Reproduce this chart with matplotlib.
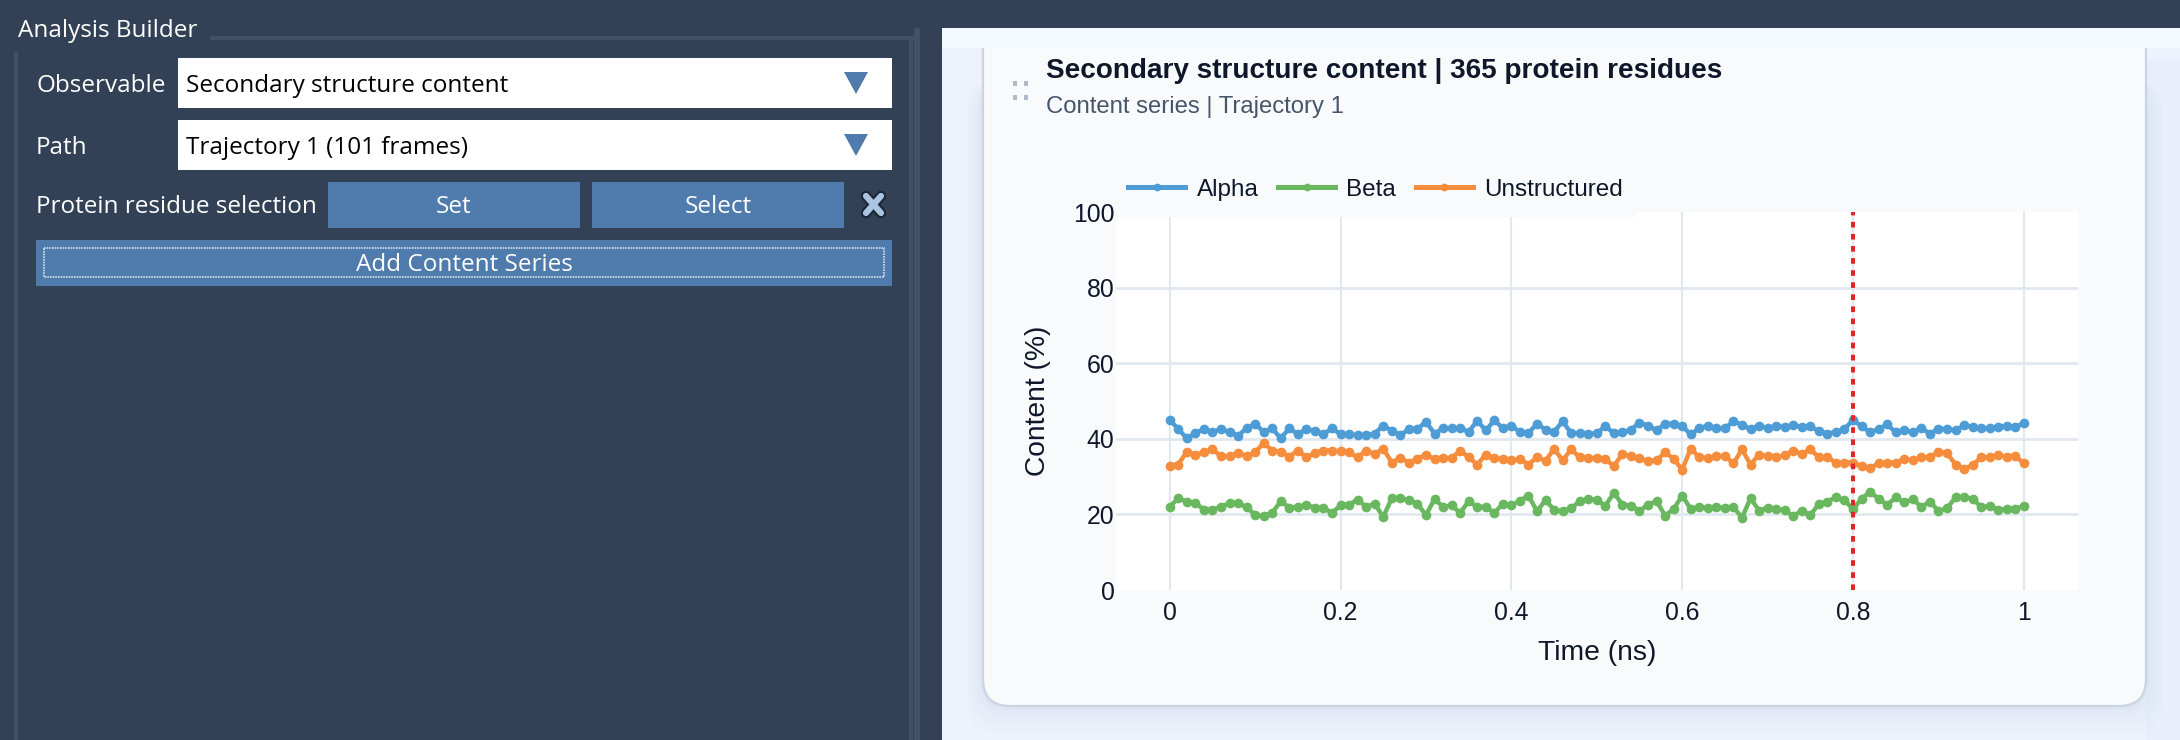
import matplotlib
matplotlib.use("Agg")
import numpy as np
import matplotlib.pyplot as plt
from matplotlib.patches import Rectangle, FancyBboxPatch, Polygon

# values (percent, 101 frames)
time_ns = [i / 100 for i in range(101)]
alpha = [45.0, 42.6, 40.1, 41.5, 42.6, 41.8, 42.6, 41.8, 40.8, 42.8, 44.0, 41.8, 42.8, 40.1, 42.8, 41.2, 42.6,
         42.0, 41.2, 42.8, 41.2, 41.2, 40.9, 40.9, 41.4, 43.5, 42.1, 40.9, 42.6, 42.6, 44.5, 41.4, 42.8, 42.8,
         42.8, 41.8, 44.8, 42.2, 44.9, 42.8, 43.5, 41.8, 41.5, 44.0, 42.4, 41.8, 44.6, 41.5, 41.5, 41.2, 41.5,
         43.3, 41.5, 41.8, 42.4, 44.3, 43.5, 42.2, 44.0, 44.0, 43.3, 41.2, 42.8, 43.5, 42.8, 42.8, 44.6, 43.7,
         42.5, 43.5, 42.8, 43.4, 43.1, 43.7, 43.1, 43.3, 42.0, 41.4, 41.8, 42.6, 45.0, 43.3, 41.7, 42.6, 43.8,
         41.7, 42.2, 41.8, 42.8, 41.4, 42.6, 42.6, 42.2, 43.6, 43.1, 42.8, 42.8, 43.1, 43.5, 43.1, 44.2]
beta = [22.0, 24.3, 23.4, 23.1, 21.2, 21.2, 22.0, 23.0, 23.0, 21.9, 19.9, 19.6, 20.4, 23.5, 21.8, 22.0, 22.4,
        21.8, 21.8, 20.4, 22.4, 22.6, 23.9, 22.0, 22.8, 19.3, 24.3, 24.3, 23.8, 22.8, 19.8, 24.1, 22.0, 22.4,
        20.4, 23.5, 22.0, 22.0, 20.4, 22.8, 22.4, 23.6, 25.0, 20.8, 23.8, 21.2, 20.9, 21.6, 23.5, 24.1, 23.8,
        22.3, 25.7, 22.6, 22.3, 20.9, 22.6, 23.5, 19.7, 21.4, 25.0, 21.4, 22.0, 21.7, 21.9, 21.7, 22.0, 19.1,
        24.3, 21.0, 21.8, 21.4, 21.1, 19.6, 21.0, 19.8, 22.8, 23.4, 24.5, 23.8, 21.3, 24.2, 25.9, 24.2, 22.5,
        24.5, 23.2, 24.0, 22.0, 23.4, 20.9, 21.6, 24.5, 24.6, 24.1, 22.0, 22.2, 21.2, 21.5, 21.4, 22.3]
unstructured = [32.9, 33.2, 36.6, 35.8, 36.4, 37.2, 35.4, 35.4, 36.3, 35.4, 36.4, 38.9, 36.9, 36.6, 35.3, 36.9,
                35.1, 36.3, 36.9, 36.9, 36.7, 36.4, 35.1, 36.9, 36.0, 37.4, 33.7, 35.0, 33.7, 34.7, 35.8, 34.6,
                34.9, 34.9, 36.9, 35.1, 33.2, 35.8, 34.9, 34.7, 34.3, 34.7, 33.2, 35.1, 34.2, 37.3, 34.3, 37.2,
                35.1, 34.9, 34.9, 34.6, 32.8, 36.0, 35.4, 34.9, 34.1, 34.3, 36.4, 34.7, 31.8, 37.4, 35.1, 34.9,
                35.4, 35.4, 33.5, 37.2, 33.2, 35.8, 35.4, 35.1, 35.7, 36.9, 36.0, 37.2, 35.1, 35.1, 33.7, 33.7,
                33.7, 32.7, 32.3, 33.5, 33.7, 33.7, 34.7, 34.3, 35.1, 35.1, 36.6, 36.2, 33.2, 32.1, 33.0, 35.1,
                35.1, 35.8, 35.1, 35.5, 33.5]
series_names = ["Alpha", "Beta", "Unstructured"]
series_colors = ["#4e9cd5", "#69b85f", "#f68d3c"]
marker_time = 0.8
x_ticks = [0, 0.2, 0.4, 0.6, 0.8, 1]
x_ticklabels = ["0", "0.2", "0.4", "0.6", "0.8", "1"]
y_ticks = [0, 20, 40, 60, 80, 100]

W, H = 2180, 740
DARK = "#324156"
FRAME = "#415268"
BLUE = "#4f7cad"
CARD = "#f8fafc"
INK = "#0f172a"
UI_FONT = ["Open Sans", "DejaVu Sans"]
UI_SIZE = 17.5
CHART_FONT = ["Liberation Sans", "DejaVu Sans"]


def box(ax, x0, y0, x1, y1, color, **kw):
    ax.add_patch(Rectangle((x0, y0), x1 - x0, y1 - y0, facecolor=color, edgecolor="none", **kw))


def main():
    fig = plt.figure(figsize=(W / 100, H / 100), dpi=100, facecolor=DARK)

    # page chrome, drawn in pixel coordinates
    bg = fig.add_axes([0, 0, 1, 1])
    bg.set_xlim(0, W)
    bg.set_ylim(H, 0)
    bg.axis("off")

    box(bg, 14, 52, 18, H, FRAME)
    box(bg, 210, 36, 917, 40, FRAME)
    box(bg, 909, 40, 913, H, FRAME)
    box(bg, 914, 6, 920, H, FRAME)
    bg.text(18, 31, "Analysis Builder", color="white", fontsize=UI_SIZE, family=UI_FONT, va="center")

    rows = [("Observable", "Secondary structure content", 58, 108),
            ("Path", "Trajectory 1 (101 frames)", 120, 170)]
    for label, value, y0, y1 in rows:
        ym = (y0 + y1) / 2
        bg.text(36, ym + 3, label, color="white", fontsize=UI_SIZE, family=UI_FONT, va="center")
        box(bg, 178, y0, 892, y1, "white")
        bg.text(186, ym + 3, value, color="black", fontsize=UI_SIZE, family=UI_FONT, va="center")
        bg.add_patch(Polygon([(844, ym - 11), (868, ym - 11), (856, ym + 11)], facecolor=BLUE, edgecolor="none"))

    bg.text(36, 207, "Protein residue selection", color="white", fontsize=UI_SIZE, family=UI_FONT, va="center")
    for text, x0, x1 in [("Set", 328, 580), ("Select", 592, 844)]:
        box(bg, x0, 182, x1, 228, BLUE)
        bg.text((x0 + x1) / 2, 207, text, color="white", fontsize=UI_SIZE, family=UI_FONT, ha="center", va="center")
    # the little close cross
    for xs in [(866, 881), (881, 866)]:
        bg.plot(xs, (196, 213), color="#1b2636", lw=7.5, solid_capstyle="round")
    for xs in [(866, 881), (881, 866)]:
        bg.plot(xs, (196, 213), color="#a9c3e0", lw=4.5, solid_capstyle="round")

    box(bg, 36, 240, 892, 286, BLUE)
    bg.add_patch(Rectangle((44, 248), 840, 29, facecolor="none", edgecolor="#d5e2f0", lw=1.2, ls=(0, (1, 0.6))))
    bg.text(464, 265, "Add Content Series", color="white", fontsize=UI_SIZE, family=UI_FONT, ha="center", va="center")

    # right hand panel and card
    box(bg, 942, 28, W, H, "#edf2fc")
    box(bg, 2146, 60, W, H, "#e8eefb")
    for grow, shade in [(26, 0.10), (18, 0.14), (10, 0.2), (4, 0.3)]:
        bg.add_patch(FancyBboxPatch((983 - grow * 0.6, 80), 1163 + 1.2 * grow, 626 + grow,
                                    boxstyle="round,pad=0,rounding_size=30", facecolor="#d4dcec",
                                    edgecolor="none", alpha=shade))
    bg.add_patch(FancyBboxPatch((983, 20), 1163, 686, boxstyle="round,pad=0,rounding_size=27",
                                facecolor=CARD, edgecolor="#cbd5e1", lw=1.6))
    box(bg, 942, 28, W, 48, "#f4f8ff")
    box(bg, 0, 0, W, 28, DARK)

    for hx in (1015, 1026):
        for hy in (83, 97):
            box(bg, hx - 2, hy - 2.5, hx + 2, hy + 2.5, "#b0bac8")
    bg.text(1046, 71, "Secondary structure content | 365 protein residues", color=INK, fontsize=20.1,
            family=CHART_FONT, fontweight="bold", va="center")
    bg.text(1046, 107, "Content series | Trajectory 1", color="#475569", fontsize=17.2,
            family=CHART_FONT, va="center")

    # the chart
    left, right, top, bottom = 1116, 2078, 212, 590
    ax = fig.add_axes([left / W, 1 - bottom / H, (right - left) / W, (bottom - top) / H])
    ax.set_facecolor("white")
    ax.set_xlim(-0.0629, 1.0634)
    ax.set_ylim(0, 100)
    for s in ax.spines.values():
        s.set_visible(False)
    ax.set_xticks(x_ticks, x_ticklabels)
    ax.set_yticks(y_ticks)
    ax.grid(True, axis="x", color="#e2e8f0", lw=1.6, zorder=0)
    ax.grid(True, axis="y", color="#e2e8f0", lw=2, zorder=0)
    ax.set_axisbelow(True)
    # no line along the plot edges at 0 and 100
    ax.yaxis.get_gridlines()[0].set_visible(False)
    ax.yaxis.get_gridlines()[-1].set_visible(False)
    ax.tick_params(length=0, labelsize=17.8, labelcolor=INK, pad=1)
    ax.tick_params(axis="x", pad=8)
    for t in ax.get_xticklabels() + ax.get_yticklabels():
        t.set_family(CHART_FONT)

    for values, name, color in zip([alpha, beta, unstructured], series_names, series_colors):
        ax.plot(time_ns, values, "-o", color=color, lw=3.2, ms=7, mew=0, label=name, zorder=3)
    ax.axvline(marker_time, color="#e3242b", lw=2.9, ls=(0, (1.4, 1.6)), zorder=4)

    # the legend's box hides the top of the plot area
    ax.add_patch(Rectangle((0, 1 - 4.7 / 378), 0.541, 4.7 / 378, transform=ax.transAxes,
                           facecolor=CARD, edgecolor="none", zorder=2.5))

    ax.set_xlabel("Time (ns)", fontsize=20.3, color=INK, family=CHART_FONT, labelpad=11)
    ax.set_ylabel("Content (%)", fontsize=20.3, color=INK, family=CHART_FONT, labelpad=16)

    leg = ax.legend(loc="lower left", bbox_to_anchor=(1128 / W, 1 - 201 / H),
                    bbox_transform=fig.transFigure, ncol=3, frameon=False, handlelength=2.36,
                    handletextpad=0.46, columnspacing=0.8, borderpad=0, borderaxespad=0,
                    prop={"family": CHART_FONT, "size": 17.5}, labelcolor=INK, markerscale=0.8)
    for h in leg.legend_handles:
        h.set_linewidth(3.6)
    fig.savefig("out.png", dpi=100, facecolor=DARK)
    plt.close(fig)


if __name__ == "__main__":
    main()
